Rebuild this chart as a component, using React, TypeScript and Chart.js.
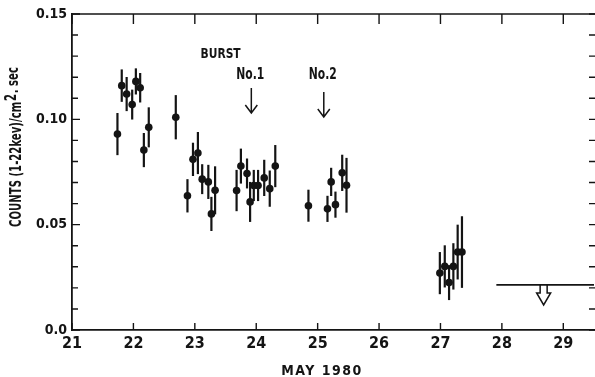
import { useEffect, useRef } from "react";
import { Chart, registerables } from "chart.js";

Chart.register(...registerables);

// ---- data ----
const days = [
  21.74, 21.81, 21.89, 21.98, 22.04, 22.11, 22.17, 22.25,
  22.69,
  22.88, 22.97, 23.05, 23.12, 23.22, 23.27, 23.33,
  23.68, 23.75, 23.85, 23.90, 23.96, 24.03, 24.13, 24.22, 24.31,
  24.85, 25.16, 25.22, 25.29, 25.40, 25.47,
  26.99, 27.07, 27.14, 27.21, 27.28, 27.35,
];
const counts = [
  0.093, 0.116, 0.112, 0.107, 0.118, 0.115, 0.0854, 0.0962,
  0.101,
  0.0637, 0.081, 0.084, 0.0716, 0.0703, 0.0551, 0.0663,
  0.0662, 0.0778, 0.0743, 0.0608, 0.0686, 0.0686, 0.0722, 0.0671, 0.0778,
  0.059, 0.0575, 0.0703, 0.0595, 0.0746, 0.0687,
  0.027, 0.0302, 0.0225, 0.0302, 0.037, 0.037,
];
const errors = [
  0.010, 0.0077, 0.0081, 0.0071, 0.0062, 0.007, 0.0081, 0.0095,
  0.0105,
  0.0079, 0.0079, 0.010, 0.0071, 0.0081, 0.0081, 0.0114,
  0.0098, 0.0083, 0.0071, 0.0095, 0.0074, 0.0074, 0.0086, 0.0086, 0.010,
  0.0076, 0.0062, 0.0067, 0.0062, 0.0086, 0.013,
  0.010, 0.010, 0.0083, 0.011, 0.013, 0.017,
];

const xMin = 21;
const xMax = 29.5;
const xTickValues = [21, 22, 23, 24, 25, 26, 27, 28, 29];
const yMin = 0;
const yMax = 0.15;
const yMajorStep = 0.05;
const yMinorStep = 0.01;

// upper limit
const limitLineDays = [27.91, 29.5];
const limitLevel = 0.0214;
const limitArrowDay = 28.68;
const limitArrowShaftEnd = 0.0176;
const limitArrowTip = 0.0119;

// burst markers
const burstTitle = "BURST";
const burstTitleDay = 23.42;
const burstTitleLevel = 0.131;
const burstDays = [23.92, 25.1];
const burstLabels = ["No.1", "No.2"];
const burstLabelLevel = 0.121;
const burstArrowTop = [0.1149, 0.113];
const burstArrowBottom = [0.103, 0.1011];

const xTitle = "MAY 1980";
const yTitleParts = ["COUNTS (1-22kev)/cm", "2", ". sec"];

const FONT = "'Liberation Sans Narrow','DejaVu Sans Condensed','Arial Narrow','Liberation Sans',sans-serif";
const INK = "#141414";

function drawCondensed(ctx: any, text: string, cx: number, cy: number, size: number, squeeze: number) {
  ctx.save();
  ctx.font = `bold ${size}px ${FONT}`;
  ctx.textAlign = "center";
  ctx.textBaseline = "middle";
  ctx.translate(cx, cy);
  ctx.scale(squeeze, 1);
  ctx.fillText(text, 0, 0);
  ctx.restore();
}

const decorPlugin = {
  id: "decor",
  beforeDatasetsDraw(chart: any) {
    const { ctx, scales } = chart;
    const x = scales.x;
    const y = scales.y;
    ctx.save();
    ctx.strokeStyle = INK;
    ctx.lineWidth = 2.2;
    ctx.lineCap = "butt";
    days.forEach((d, i) => {
      const px = x.getPixelForValue(d);
      ctx.beginPath();
      ctx.moveTo(px, y.getPixelForValue(counts[i] - errors[i]));
      ctx.lineTo(px, y.getPixelForValue(counts[i] + errors[i]));
      ctx.stroke();
    });
    ctx.restore();
  },
  afterDraw(chart: any) {
    const { ctx, chartArea: a, scales } = chart;
    const x = scales.x;
    const y = scales.y;
    ctx.save();
    ctx.strokeStyle = INK;
    ctx.fillStyle = INK;

    // top frame line
    ctx.lineWidth = 1.6;
    ctx.beginPath();
    ctx.moveTo(a.left, a.top);
    ctx.lineTo(a.right + 1, a.top);
    ctx.stroke();

    // x ticks (inward, bottom and top)
    ctx.lineWidth = 1.4;
    x.ticks.forEach((t: any) => {
      const px = x.getPixelForValue(t.value);
      ctx.beginPath();
      ctx.moveTo(px, a.bottom);
      ctx.lineTo(px, a.bottom - 7);
      ctx.moveTo(px, a.top);
      ctx.lineTo(px, a.top + 10);
      ctx.stroke();
    });

    // y ticks, major + minor, left and right (inward)
    const n = Math.round((yMax - yMin) / yMinorStep);
    for (let k = 0; k <= n; k++) {
      const v = yMin + k * yMinorStep;
      const py = y.getPixelForValue(v);
      const major = k % Math.round(yMajorStep / yMinorStep) === 0;
      ctx.beginPath();
      ctx.moveTo(a.left, py);
      ctx.lineTo(a.left + (major ? 8 : 6), py);
      ctx.moveTo(a.right + 1, py);
      ctx.lineTo(a.right - 5, py);
      ctx.stroke();
    }

    // hollow upper-limit arrow
    {
      const px = x.getPixelForValue(limitArrowDay);
      const y0 = y.getPixelForValue(limitLevel);
      const ys = y.getPixelForValue(limitArrowShaftEnd);
      const yt = y.getPixelForValue(limitArrowTip);
      ctx.lineWidth = 1.5;
      ctx.beginPath();
      ctx.moveTo(px - 3.5, y0);
      ctx.lineTo(px - 3.5, ys);
      ctx.lineTo(px - 7, ys);
      ctx.lineTo(px, yt);
      ctx.lineTo(px + 7, ys);
      ctx.lineTo(px + 3.5, ys);
      ctx.lineTo(px + 3.5, y0);
      ctx.stroke();
    }

    // burst arrows
    ctx.lineWidth = 1.5;
    burstDays.forEach((d, i) => {
      const px = x.getPixelForValue(d);
      const yt = y.getPixelForValue(burstArrowTop[i]);
      const yb = y.getPixelForValue(burstArrowBottom[i]);
      ctx.beginPath();
      ctx.moveTo(px, yt);
      ctx.lineTo(px, yb);
      ctx.moveTo(px - 6, yb - 8);
      ctx.lineTo(px, yb);
      ctx.lineTo(px + 6, yb - 8);
      ctx.stroke();
    });

    // texts
    drawCondensed(ctx, burstTitle, x.getPixelForValue(burstTitleDay), y.getPixelForValue(burstTitleLevel), 14, 0.85);
    burstDays.forEach((d, i) => {
      drawCondensed(ctx, burstLabels[i], x.getPixelForValue(d) - 1, y.getPixelForValue(burstLabelLevel), 15, 0.8);
    });

    // x title
    ctx.save();
    ctx.font = `bold 14px ${FONT}`;
    ctx.textAlign = "center";
    ctx.textBaseline = "middle";
    (ctx as any).letterSpacing = "1.5px";
    ctx.fillText(xTitle, 322, 371);
    ctx.restore();

    // y title (rotated, condensed, with raised exponent)
    ctx.translate(17, 147);
    ctx.rotate(-Math.PI / 2);
    ctx.scale(0.75, 1);
    ctx.font = `bold 15px ${FONT}`;
    ctx.textBaseline = "middle";
    const w0 = ctx.measureText(yTitleParts[0]).width;
    const w1 = ctx.measureText(yTitleParts[1]).width;
    const w2 = ctx.measureText(yTitleParts[2]).width;
    let cx = -(w0 + w1 + w2 + 2) / 2;
    ctx.textAlign = "left";
    ctx.fillText(yTitleParts[0], cx, 0);
    cx += w0 + 1;
    ctx.fillText(yTitleParts[1], cx, -5);
    cx += w1 + 1;
    ctx.fillText(yTitleParts[2], cx, -3);
    ctx.restore();
  },
};

export default function App() {
  const ref = useRef<HTMLCanvasElement | null>(null);

  useEffect(() => {
    if (!ref.current) return;
    const chart = new Chart(ref.current, {
      type: "scatter",
      data: {
        datasets: [
          {
            label: "counts",
            data: days.map((d, i) => ({ x: d, y: counts[i] })),
            pointRadius: 3.8,
            pointBackgroundColor: INK,
            pointBorderWidth: 0,
            showLine: false,
          },
          {
            label: "upper limit",
            data: limitLineDays.map((d) => ({ x: d, y: limitLevel })),
            showLine: true,
            borderColor: INK,
            borderWidth: 1.8,
            pointRadius: 0,
          },
        ],
      },
      options: {
        animation: false,
        responsive: true,
        maintainAspectRatio: false,
        layout: { autoPadding: false, padding: { top: 14, right: 1, left: 0, bottom: 0 } },
        plugins: {
          legend: { display: false },
          tooltip: { enabled: false },
        },
        scales: {
          x: {
            type: "linear",
            min: xMin,
            max: xMax,
            afterFit: (s: any) => {
              s.height = 47;
              s.paddingLeft = 0;
              s.paddingRight = 0;
            },
            afterBuildTicks: (s: any) => {
              s.ticks = xTickValues.map((v) => ({ value: v }));
            },
            ticks: {
              color: INK,
              padding: 4,
              maxRotation: 0,
              autoSkip: false,
              font: { family: FONT, size: 16, weight: "bold" },
              callback: (v: any) => String(v),
            },
            grid: { display: false, drawTicks: false },
            border: { display: true, color: INK, width: 1.8 },
          },
          y: {
            min: yMin,
            max: yMax,
            afterFit: (s: any) => {
              s.width = 72;
            },
            ticks: {
              stepSize: yMajorStep,
              color: INK,
              padding: 5,
              font: { family: FONT, size: 14, weight: "bold" },
              callback: (v: any) => (Math.abs(v) < 1e-9 ? "0.0" : Number(v).toFixed(2)),
            },
            grid: { display: false, drawTicks: false },
            border: { display: true, color: INK, width: 1.8 },
          },
        },
      },
      plugins: [decorPlugin],
    });
    return () => chart.destroy();
  }, []);

  return (
    <div style={{ position: "fixed", left: 0, top: 0, width: 595, height: 377, background: "#fff" }}>
      <canvas ref={ref} />
    </div>
  );
}
